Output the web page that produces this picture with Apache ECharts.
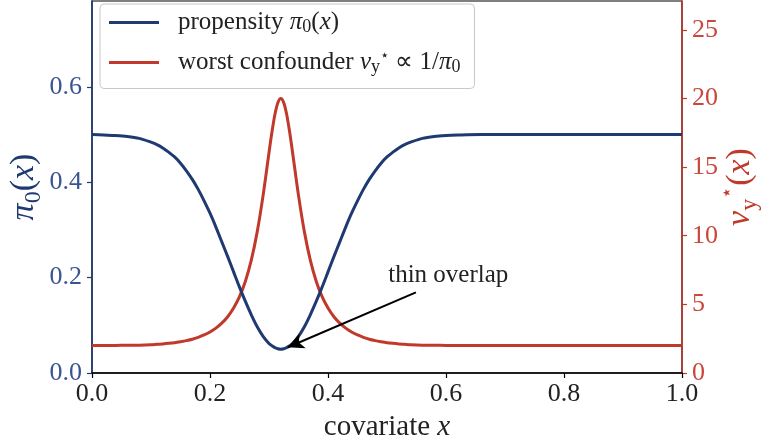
<!DOCTYPE html>
<html>
<head>
<meta charset="utf-8">
<script src="https://cdn.jsdelivr.net/npm/echarts@6/dist/echarts.min.js"></script>
<style>html,body{margin:0;padding:0;background:#fff}#c{width:761px;height:444px}</style>
</head>
<body>
<div id="c"></div>
<script>
// covariate grid
const xs = [0.00,0.02,0.04,0.06,0.08,0.10,0.11,0.12,0.13,0.14,0.15,0.16,0.17,0.18,0.19,0.20,
  0.21,0.22,0.23,0.24,0.25,0.26,0.27,0.28,0.29,0.30,0.305,0.31,0.315,0.32,0.325,0.33,0.335,0.34,
  0.35,0.36,0.37,0.38,0.39,0.40,0.41,0.42,0.43,0.44,0.45,0.46,0.47,0.48,0.49,0.50,0.51,0.52,
  0.53,0.54,0.56,0.58,0.60,0.62,0.66,0.70,0.75,0.80,0.85,0.90,0.95,1.00];
// propensity pi_0(x)
const propensity = [0.500,0.499,0.498,0.496,0.492,0.484,0.479,0.472,0.463,0.453,0.440,0.424,0.406,0.385,0.361,0.335,
  0.306,0.275,0.244,0.212,0.180,0.150,0.122,0.097,0.077,0.062,0.057,0.053,0.051,0.050,0.051,0.053,0.057,0.062,
  0.077,0.097,0.122,0.150,0.180,0.212,0.244,0.275,0.306,0.335,0.361,0.385,0.406,0.424,0.440,0.453,0.463,0.472,
  0.479,0.484,0.492,0.496,0.498,0.499,0.500,0.500,0.500,0.500,0.500,0.500,0.500,0.500];
// worst confounder v_y*(x)
const confounder = [2.00,2.00,2.01,2.02,2.03,2.06,2.09,2.12,2.16,2.21,2.28,2.36,2.46,2.60,2.77,2.99,
  3.27,3.63,4.10,4.73,5.56,6.69,8.22,10.28,12.94,16.05,17.55,18.83,19.69,20.00,19.69,18.83,17.55,16.05,
  12.94,10.28,8.22,6.69,5.56,4.73,4.10,3.63,3.27,2.99,2.77,2.60,2.46,2.36,2.28,2.21,2.16,2.12,
  2.09,2.06,2.03,2.02,2.01,2.00,2.00,2.00,2.00,2.00,2.00,2.00,2.00,2.00];
// annotation
const arrowFrom = [0.549, 0.169];
const arrowTo = [0.332, 0.054];
const notePos = [0.502, 0.205];
const noteText = 'thin overlap';

const BLUE = '#1f3a70', RED = '#c0392b';
const BLUE_L = '#3a5392', RED_L = '#c9473b';
const FONT = 'Liberation Serif';

const mathRich = (fs, color, lh) => {
  lh = lh || Math.round(fs * 1.3);
  return {
    i: {fontFamily: FONT, fontStyle: 'italic', fontSize: fs, color: color, lineHeight: lh},
    n: {fontFamily: FONT, fontSize: fs, color: color, lineHeight: lh},
    s: {fontFamily: FONT, fontSize: Math.round(fs * 0.7), color: color, lineHeight: Math.round(fs * 0.7), verticalAlign: 'bottom'},
    sup: {fontFamily: FONT, fontSize: Math.round(fs * 0.6), color: color, lineHeight: Math.round(fs * 0.6), verticalAlign: 'top'},
    t: {fontFamily: FONT, fontSize: fs, color: color, lineHeight: lh}
  };
};

const LEG_ICON = 'path://M0,0 L50,0 L50,3 L0,3 Z';

const chart = echarts.init(document.getElementById('c'));
chart.setOption({
  animation: false,
  grid: {left: 92, right: 79, top: 1, bottom: 71, containLabel: false, outerBoundsMode: 'none',
    show: true, borderColor: '#000', borderWidth: 1.2, backgroundColor: 'transparent'},
  legend: {
    orient: 'vertical', left: 100, top: 4,
    padding: [6, 14, 12, 9],
    itemWidth: 50, itemHeight: 28, itemGap: 12,
    backgroundColor: 'rgba(255,255,255,0.85)',
    borderColor: '#c8c8c8', borderWidth: 1, borderRadius: 4,
    textStyle: {fontFamily: FONT, fontSize: 25, color: '#222', padding: [0, 0, 0, 14], rich: mathRich(25, '#222', 28)},
    formatter: function (name) {
      if (name === 'propensity') return '{t|propensity }{i|π}{s|0}{n|(}{i|x}{n|)}';
      return '{t|worst confounder }{i|v}{s|y}{sup|⋆}{n| ∝ 1/}{i|π}{s|0}';
    },
    data: [
      {name: 'propensity', icon: LEG_ICON, itemStyle: {color: BLUE}},
      {name: 'worst', icon: LEG_ICON, itemStyle: {color: RED}}
    ]
  },
  xAxis: {
    type: 'value', min: 0, max: 1, interval: 0.2,
    name: '{t|covariate }{i|x}', nameLocation: 'middle', nameGap: 35, nameMoveOverlap: false,
    nameTextStyle: {rich: mathRich(29, '#222')},
    axisLine: {lineStyle: {color: '#000', width: 1.5}},
    axisTick: {show: true, inside: false, length: 5, lineStyle: {color: '#000', width: 1.2}},
    axisLabel: {fontFamily: FONT, fontSize: 26, color: '#222', margin: 8, formatter: v => v.toFixed(1)},
    splitLine: {show: false}
  },
  yAxis: [{
    type: 'value', min: 0, max: 0.78, interval: 0.2, position: 'left',
    name: '{i|π}{s|0}{n|(}{i|x}{n|)}', nameLocation: 'middle', nameGap: 46, nameRotate: 90, nameMoveOverlap: false,
    nameTextStyle: {rich: mathRich(34, BLUE)},
    axisLine: {show: true, lineStyle: {color: BLUE, width: 1.5}},
    axisTick: {show: true, inside: false, length: 5, lineStyle: {color: BLUE, width: 1.2}},
    axisLabel: {fontFamily: FONT, fontSize: 26, color: BLUE_L, margin: 10, showMaxLabel: false, formatter: v => v.toFixed(1)},
    splitLine: {show: false}
  }, {
    type: 'value', min: 0, max: 27.1, interval: 5, position: 'right',
    name: '{i|v}{s|y}{sup|⋆}{n|(}{i|x}{n|)}', nameLocation: 'middle', nameGap: 36, nameRotate: 90, nameMoveOverlap: false,
    nameTextStyle: {rich: mathRich(34, RED)},
    axisLine: {show: true, lineStyle: {color: RED, width: 1.5}},
    axisTick: {show: true, inside: false, length: 5, lineStyle: {color: RED, width: 1.2}},
    axisLabel: {fontFamily: FONT, fontSize: 26, color: RED_L, margin: 10, showMaxLabel: false},
    splitLine: {show: false}
  }],
  series: [{
    name: 'propensity', type: 'line', yAxisIndex: 0, showSymbol: false, symbol: 'none', smooth: 0.3,
    lineStyle: {color: BLUE, width: 3}, itemStyle: {color: BLUE},
    data: xs.map((x, k) => [x, propensity[k]]),
    z: 3,
    markLine: {
      silent: true, symbol: ['none', 'arrow'], symbolSize: [12, 16],
      lineStyle: {color: '#000', width: 2, type: 'solid'},
      label: {show: false},
      data: [[{coord: arrowFrom}, {coord: arrowTo}]]
    },
    markPoint: {
      silent: true, symbol: 'circle', symbolSize: 0,
      label: {show: true, position: 'right', distance: 0, formatter: noteText, fontFamily: FONT, fontSize: 25, color: '#222'},
      data: [{coord: notePos}]
    }
  }, {
    name: 'worst', type: 'line', yAxisIndex: 1, showSymbol: false, symbol: 'none', smooth: 0.3,
    lineStyle: {color: RED, width: 3}, itemStyle: {color: RED},
    data: xs.map((x, k) => [x, confounder[k]]),
    z: 2
  }]
});
</script>
</body>
</html>
